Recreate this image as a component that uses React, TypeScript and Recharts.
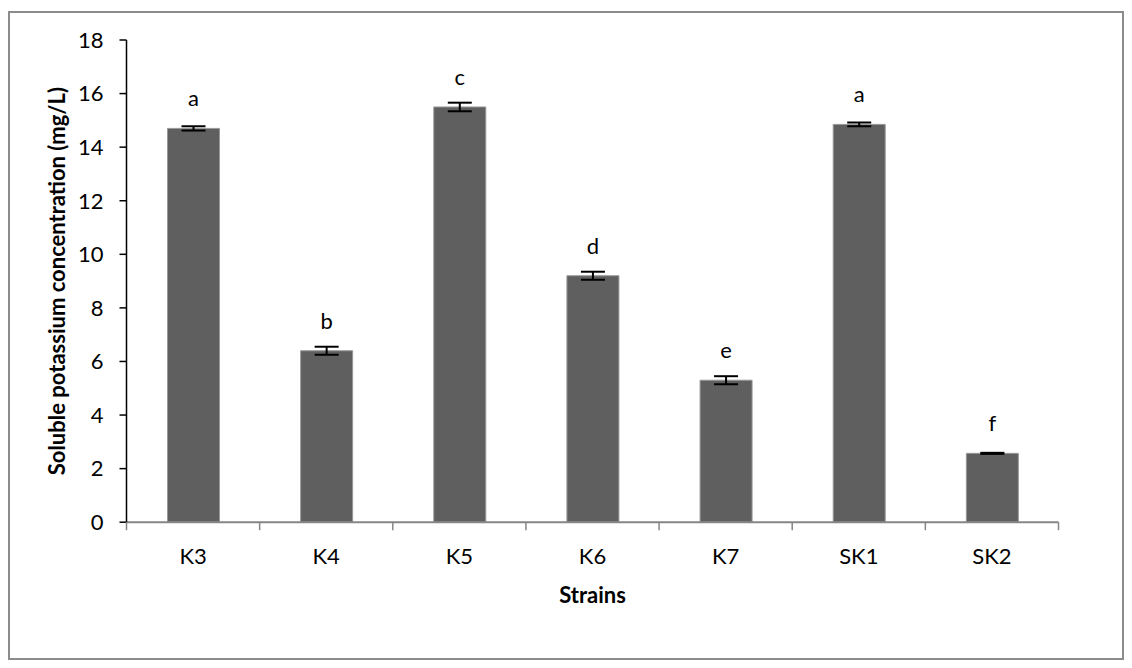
import React from "react";
import { BarChart, Bar, XAxis, YAxis, ErrorBar, LabelList } from "recharts";

const strains = ["K3", "K4", "K5", "K6", "K7", "SK1", "SK2"];
const concentration = [14.7, 6.4, 15.5, 9.2, 5.3, 14.85, 2.57];
const errors = [0.08, 0.15, 0.16, 0.15, 0.15, 0.07, 0.02];
const letters = ["a", "b", "c", "d", "e", "a", "f"];
const yTicks = [0, 2, 4, 6, 8, 10, 12, 14, 16, 18];

const data = strains.map((s, i) => ({
  name: s,
  value: concentration[i],
  err: errors[i],
  letter: letters[i],
}));

const FONT = "Lato, 'Open Sans', sans-serif";
const TXT = 22;

const CatTick = (props: any) => {
  const { x, y, payload, index, visibleTicksCount } = props;
  const half = payload.offset ?? 0;
  const last = index === (visibleTicksCount ?? 0) - 1;
  return (
    <g>
      <line x1={x - half} x2={x - half} y1={y} y2={y + 8} stroke="#868686" strokeWidth={1.5} />
      {last && <line x1={x + half} x2={x + half} y1={y} y2={y + 8} stroke="#868686" strokeWidth={1.5} />}
      <text x={x} y={y + 42} textAnchor="middle" fontFamily={FONT} fontSize={TXT} fill="#000">
        {payload.value}
      </text>
    </g>
  );
};

const LetterLabel = (props: any) => {
  const { x, y, width, value } = props;
  return (
    <text x={x + width / 2} y={y - 22} textAnchor="middle" fontFamily={FONT} fontSize={TXT} fill="#000">
      {value}
    </text>
  );
};

export default function App() {
  const W = 1116;
  const H = 652;
  return (
    <div style={{ width: W, height: H, position: "relative", overflow: "hidden" }}>
      <div
        style={{
          position: "absolute",
          left: 0,
          top: 3,
          width: W,
          height: H - 3,
          border: "2px solid #8c8c8c",
          boxSizing: "border-box",
        }}
      />
      <div style={{ position: "absolute", left: 0, top: 0 }}>
        <BarChart
          width={W}
          height={H}
          data={data}
          margin={{ top: 32, right: 65.5, left: 0, bottom: 77.8 }}
        >
          <XAxis
            dataKey="name"
            height={60}
            axisLine={{ stroke: "#868686", strokeWidth: 2 }}
            tickLine={false}
            tickSize={0}
            tickMargin={0}
            interval={0}
            tick={<CatTick />}
            label={(p: any) => {
              const vb = p.viewBox || {};
              return (
                <text
                  x={(vb.x ?? 0) + (vb.width ?? 0) / 2}
                  y={(vb.y ?? 0) + 81}
                  textAnchor="middle"
                  fontFamily={FONT}
                  fontWeight="bold"
                  fontSize={TXT}
                  fill="#000"
                >
                  Strains
                </text>
              );
            }}
          />
          <YAxis
            width={118.5}
            domain={[0, 18]}
            ticks={yTicks}
            interval={0}
            axisLine={{ stroke: "#000", strokeWidth: 1.5 }}
            tickLine={{ stroke: "#000", strokeWidth: 1.5 }}
            tickSize={7}
            tickMargin={16}
            tick={{ fontFamily: FONT, fontSize: TXT, fill: "#000" }}
            label={(p: any) => {
              const vb = p.viewBox || {};
              const cy = (vb.y ?? 0) + (vb.height ?? 0) / 2;
              return (
                <text
                  x={57}
                  y={cy}
                  transform={`rotate(-90, 57, ${cy})`}
                  textAnchor="middle"
                  fontFamily={FONT}
                  fontWeight="bold"
                  fontSize={22}
                  fill="#000"
                >
                  Soluble potassium concentration (mg/L)
                </text>
              );
            }}
          />
          <Bar
            dataKey="value"
            barSize={52}
            fill="#5f5f5f"
            stroke="#989898"
            strokeWidth={1}
            isAnimationActive={false}
          >
            <ErrorBar dataKey="err" width={12} stroke="#000" strokeWidth={2} direction="y" />
            <LabelList dataKey="letter" content={<LetterLabel />} />
          </Bar>
        </BarChart>
      </div>
    </div>
  );
}
